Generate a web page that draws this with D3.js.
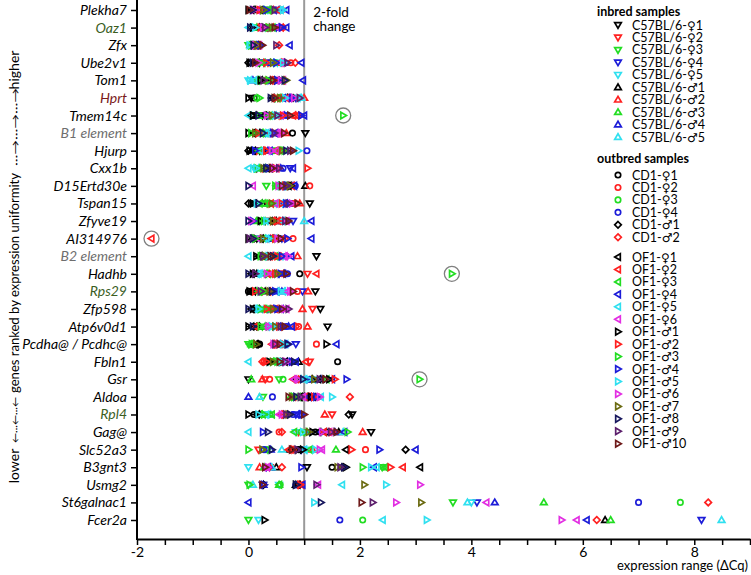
<!DOCTYPE html>
<html>
<head>
<meta charset="utf-8">
<script src="https://cdn.jsdelivr.net/npm/d3@7"></script>
<style>
  body { margin: 0; background: #fff; }
  svg { display: block; font-family: Lato, "Open Sans", sans-serif; }
</style>
</head>
<body>
<svg width="751" height="575"></svg>
<script>
// genes, top (most uniform) to bottom
const genes = ["Plekha7", "Oaz1", "Zfx", "Ube2v1", "Tom1", "Hprt", "Tmem14c", "B1 element", "Hjurp", "Cxx1b",
  "D15Ertd30e", "Tspan15", "Zfyve19", "AI314976", "B2 element", "Hadhb", "Rps29", "Zfp598", "Atp6v0d1",
  "Pcdha@ / Pcdhc@", "Fbln1", "Gsr", "Aldoa", "Rpl4", "Gag@", "Slc52a3", "B3gnt3", "Usmg2", "St6galnac1", "Fcer2a"];

// samples (same order as values in every gene array below)
const inbredSamples = ["C57BL/6-♀1", "C57BL/6-♀2", "C57BL/6-♀3", "C57BL/6-♀4", "C57BL/6-♀5",
  "C57BL/6-♂1", "C57BL/6-♂2", "C57BL/6-♂3", "C57BL/6-♂4", "C57BL/6-♂5"];
const cd1Samples = ["CD1-♀1", "CD1-♀2", "CD1-♀3", "CD1-♀4", "CD1-♂1", "CD1-♂2"];
const of1Samples = ["OF1-♀1", "OF1-♀2", "OF1-♀3", "OF1-♀4", "OF1-♀5", "OF1-♀6",
  "OF1-♂1", "OF1-♂2", "OF1-♂3", "OF1-♂4", "OF1-♂5", "OF1-♂6", "OF1-♂7", "OF1-♂8", "OF1-♂9", "OF1-♂10"];
const samples = inbredSamples.concat(cd1Samples, of1Samples);

// expression range (dCq) per gene, 32 samples each
const plekha7 = [0.30,0.42,0.22,0.50,0.35, 0.12,0.45,0.28,0.55,0.38, 0.18,0.60,0.33,0.48, 0.25,0.40, 0.05,0.52,0.36,0.68,0.58,0.15, 0.00,0.20,0.44,0.32,0.62,0.10,0.27,0.08,0.47,0.02];
const oaz1 = [0.35,0.25,0.40,0.50,0.30, 0.20,0.45,0.15,0.55,0.38, 0.28,0.62,0.10,0.48, 0.05,0.33, 0.18,0.58,0.43,0.68,0.00,0.52, 0.08,0.22,0.36,0.60,0.12,0.26,0.42,0.03,0.30,0.47];
const zfx = [0.10,0.15,0.00,0.12,0.05, 0.08,0.18,0.03,0.14,0.06, 0.20,0.11,0.16,0.09, 0.22,0.55, 0.13,0.17,0.07,0.74,0.04,0.19, 0.10,0.14,0.06,0.21,0.02,0.12,0.16,0.09,0.50,0.25];
const ube2v1 = [0.20,0.35,0.45,0.28,0.52, 0.10,0.60,0.40,0.65,0.30, 0.05,0.76,0.48,0.38, 0.00,0.84, 0.15,0.55,0.25,0.95,0.42,0.58, 0.02,0.32,0.22,0.50,0.62,0.18,0.44,0.08,0.70,0.12];
const tom1 = [0.12,0.30,0.20,0.35,0.00, 0.25,0.40,0.18,0.08,0.05, 0.45,0.50,0.28,0.38, 0.55,0.32, 0.42,0.60,0.15,0.98,0.10,0.62, 0.22,0.48,0.36,0.52,0.03,0.58,0.68,0.65,0.27,0.44];
const hprt = [0.05,0.55,0.48,0.85,0.90, 0.70,1.00,0.60,0.75,0.95, 0.10,0.65,0.15,0.45, 0.80,0.58, 0.42,0.68,0.52,0.62,0.88,0.72, 0.00,0.50,0.20,0.78,0.66,0.82,0.57,0.40,0.92,0.47];
const tmem14c = [0.25,0.55,0.40,0.35,0.60, 0.15,0.85,0.30,0.65,0.50, 0.10,0.45,0.20,0.70, 0.05,0.90, 0.28,0.80,0.38,1.00,0.00,0.58, 0.08,0.62,1.70,0.95,0.48,0.33,0.42,0.18,0.52,0.75];
const b1Element = [1.02,0.55,0.35,0.30,0.45, 0.20,0.68,0.25,0.40,0.15, 0.79,0.50,0.28,0.42, 0.10,0.60, 0.08,0.38,0.22,0.48,0.32,0.52, 0.00,0.18,0.05,0.44,0.36,0.58,0.12,0.26,0.47,0.64];
const hjurp = [0.20,0.15,0.55,0.10,0.40, 0.05,0.28,0.58,0.35,0.70, 0.25,0.62,0.45,1.05, 0.00,0.30, 0.08,0.48,0.18,0.38,0.22,0.50, 0.02,0.32,0.65,0.12,0.90,0.42,0.60,0.68,0.75,0.80];
const cxx1b = [0.15,0.25,0.12,0.75,0.10, 0.30,0.40,0.20,0.58,0.18, 0.35,0.28,0.22,0.62, 0.33,0.45, 0.38,0.50,0.25,0.80,0.00,0.48, 0.42,1.06,0.16,0.36,0.14,0.46,0.27,0.32,0.55,0.43];
const d15Ertd30e = [0.62,0.70,0.32,0.58,0.66, 1.02,0.74,0.55,0.80,0.60, 0.68,1.10,0.52,0.84, 0.64,0.56, 0.72,0.78,0.50,0.82,0.62,0.08, 0.76,0.66,0.48,0.70,0.58,0.54,0.74,0.00,0.68,0.60];
const tspan15 = [1.10,0.35,0.45,0.62,0.50, 0.25,0.92,0.30,0.70,0.55, 0.05,0.80,0.28,0.75, 0.00,0.85, 0.10,0.40,0.20,0.65,0.58,0.48, 0.08,0.60,0.38,0.68,0.15,0.78,0.42,0.18,0.72,0.88];
const zfyve19 = [0.30,0.40,0.20,0.80,0.35, 0.50,0.55,0.15,0.62,1.00, 0.45,0.65,0.18,0.70, 0.48,0.58, 0.38,0.42,0.25,1.13,0.60,0.68, 0.22,0.52,0.28,0.08,0.32,0.05,0.44,0.00,0.66,0.72];
const ai314976 = [0.15,0.35,0.25,0.60,0.20, 0.05,0.40,0.30,0.45,0.50, 0.55,0.80,0.28,0.38, 0.10,0.65, 0.22,-1.74,0.42,1.13,0.32,0.18, 0.00,0.48,0.12,0.70,0.36,0.52,0.26,0.08,0.02,0.58];
const b2Element = [1.22,0.40,0.30,0.55,0.62, 0.25,0.88,0.20,0.45,0.35, 0.28,0.50,0.42,0.68, 0.33,0.58, 0.18,0.38,0.48,0.77,0.00,0.65, 0.14,0.52,0.22,0.60,0.36,0.72,0.30,0.44,0.26,0.40];
const hadhb = [0.30,1.06,0.40,0.55,0.20, 0.15,0.50,0.35,0.65,0.25, 0.92,0.60,0.45,0.70, 0.10,0.38, 0.05,1.22,0.28,0.62,0.18,0.42, 0.08,0.48,3.65,0.58,0.22,0.33,0.52,0.00,0.12,0.68];
const rps29 = [1.20,0.40,0.20,0.97,0.55, 0.30,1.07,0.15,0.60,0.65, 0.00,0.88,0.10,0.45, 0.05,0.25, 0.08,0.35,0.18,0.50,0.62,0.70, 0.02,0.12,0.28,0.48,0.58,0.75,0.38,0.42,0.22,0.80];
const zfp598 = [1.29,1.15,0.40,0.35,0.25, 0.20,0.97,0.30,0.45,0.15, 0.50,0.62,0.38,0.55, 0.10,0.42, 0.05,0.48,0.28,0.58,0.12,0.68, 0.08,0.33,0.22,0.52,0.18,0.65,0.44,0.00,0.72,0.60];
const atp6v0d1 = [1.42,0.60,0.25,0.45,0.38, 0.20,1.06,0.30,0.72,0.50, 0.10,0.90,0.35,0.68, 0.15,0.85, 0.05,0.12,0.28,0.78,0.40,0.32, 0.00,0.55,0.22,0.62,0.42,0.36,0.48,0.08,0.58,0.65];
const pcdha = [0.15,0.48,0.00,0.85,0.62, 0.10,0.52,0.05,0.58,0.65, 0.20,1.22,0.08,0.55, 0.18,0.60, 0.12,0.42,0.03,1.58,0.66,0.45, 1.40,0.50,0.06,0.72,0.62,0.45,0.14,0.70,0.48,0.56];
const fbln1 = [0.55,1.10,0.40,0.62,0.35, 0.90,0.30,0.45,0.70,0.50, 1.60,0.28,0.42,0.75, 0.58,0.25, 0.65,1.03,0.48,0.85,0.00,0.72, 0.38,0.32,0.52,0.78,0.60,0.68,0.44,0.82,0.66,0.56];
const gsr = [0.00,0.30,0.55,1.05,1.20, 1.15,0.25,0.05,1.30,0.95, 0.85,0.38,0.62,1.10, 1.35,0.90, 1.25,0.80,1.40,1.50,1.00,0.82, 1.45,1.55,3.07,1.76,1.08,0.88,1.18,0.98,1.28,1.38];
const aldoa = [0.95,0.85,0.26,1.05,0.80, 1.00,1.10,0.75,0.00,0.20, 1.15,1.25,0.90,0.43, 1.20,1.82, 0.92,1.02,0.88,1.08,1.30,0.98, 1.12,1.18,0.82,1.22,1.50,1.28,0.78,0.86,0.94,0.72];
const rpl4 = [1.86,1.50,0.30,0.85,0.35, 0.20,1.37,0.25,0.92,0.40, 0.10,0.62,0.38,0.80, 1.80,0.70, 0.15,0.58,0.42,0.88,0.32,0.55, 0.00,0.65,0.28,0.95,0.18,0.60,0.72,0.75,0.68,1.00];
const gag = [2.20,0.90,1.00,1.10,0.85, 1.62,2.05,1.05,1.55,1.70, 1.20,0.55,0.95,1.30, 1.40,0.60, 1.25,1.35,0.82,1.72,0.00,1.45, 1.15,1.50,1.78,0.26,0.98,1.32,1.08,0.35,1.48,1.58];
const slc52a3 = [0.85,0.18,0.35,0.95,1.05, 0.75,1.15,1.57,0.40,0.60, 0.90,2.10,0.32,0.28, 2.82,0.80, 1.75,0.72,1.10,3.00,1.00,1.32, 0.98,1.85,0.00,2.35,1.20,1.28,0.25,0.42,0.88,0.78];
const b3gnt3 = [1.05,0.38,2.40,0.32,0.00, 0.50,0.20,0.28,0.40,0.42, 1.50,0.36,2.42,0.30, 1.68,0.60, 3.08,2.77,2.45,2.25,2.30,0.33, 1.75,2.55,2.05,0.95,2.20,0.35,1.60,1.72,1.65,0.30];
const usmg2 = [0.26,0.90,0.00,0.26,0.55, 0.85,0.92,0.55,0.27,0.08, 0.88,0.92,0.57,0.85, 0.27,0.90, 0.88,0.95,0.55,0.97,1.68,1.25, 0.85,0.93,0.02,0.28,2.47,3.08,2.08,0.86,1.22,0.25];
const st6galnac1 = [null,null,3.67,4.10,4.00, null,null,5.30,4.42,3.93, null,null,7.75,7.00, null,8.25, null,null,null,0.00,null,4.27, null,null,null,null,1.18,2.65,3.10,1.30,2.23,2.03];
const fcer2a = [null,null,0.00,8.13,0.18, 6.40,null,6.50,null,8.49, null,null,2.05,1.64, null,6.25, null,null,null,6.07,2.41,5.89, 0.29,null,null,null,3.20,5.62,null,null,null,null];

const values = [plekha7, oaz1, zfx, ube2v1, tom1, hprt, tmem14c, b1Element, hjurp, cxx1b,
  d15Ertd30e, tspan15, zfyve19, ai314976, b2Element, hadhb, rps29, zfp598, atp6v0d1,
  pcdha, fbln1, gsr, aldoa, rpl4, gag, slc52a3, b3gnt3, usmg2, st6galnac1, fcer2a];

// outliers marked with a ring
const circledGenes = ["AI314976", "Tmem14c", "Hadhb", "Gsr"];
const circledSamples = ["OF1-♀2", "OF1-♂3", "OF1-♂3", "OF1-♂3"];

const xTickLabels = [-2, 0, 2, 4, 6, 8];

// styles
const palette = ["#000000", "#ff2020", "#22dd22", "#1c1cd8", "#30e0f0", "#e22ee2", "#6b6b12", "#18185e", "#5c1f6c", "#6e1a1a"];
const labelColor = { "Oaz1": "#3b5e1f", "Rps29": "#3b5e1f", "Rpl4": "#3b5e1f", "Hprt": "#7a1a1a",
  "B1 element": "#6e6e6e", "B2 element": "#6e6e6e" };

function sampleShape(name) {
  let female = name.indexOf("♀") >= 0;
  if (name.startsWith("C57")) return female ? "down" : "up";
  if (name.startsWith("CD1")) return female ? "circle" : "diamond";
  return female ? "left" : "right";
}
function sampleColor(name) {
  let n = +name.replace(/.*[♀♂]/, "");
  return palette[n - 1];
}

function markerPath(shape) {
  let s = 3.3;
  switch (shape) {
    case "down": return `M${-s},${-s * 0.7}L${s},${-s * 0.7}L0,${s}Z`;
    case "up": return `M${-s},${s * 0.7}L${s},${s * 0.7}L0,${-s}Z`;
    case "left": return `M${s * 0.7},${-s}L${s * 0.7},${s}L${-s},0Z`;
    case "right": return `M${-s * 0.7},${-s}L${-s * 0.7},${s}L${s},0Z`;
    case "diamond": return `M0,${-s}L${s},0L0,${s}L${-s},0Z`;
    default: { let r = 2.7; return `M${r},0A${r},${r} 0 1,1 ${-r},0A${r},${r} 0 1,1 ${r},0Z`; }
  }
}

let svg = d3.select("svg");
let x = d3.scaleLinear().domain([-2, 9]).range([137, 750]);
let y = d3.scalePoint().domain(genes).range([10, 520]);
let axisY = 539;

// 2-fold change line
svg.append("line")
  .attr("x1", x(1)).attr("x2", x(1))
  .attr("y1", 0).attr("y2", axisY)
  .attr("stroke", "#9a9a9a").attr("stroke-width", 2);

svg.append("text")
  .attr("x", x(1) + 9).attr("y", 17)
  .attr("font-size", 13.5)
  .selectAll("tspan")
  .data(["2-fold", "change"])
  .enter().append("tspan")
  .attr("x", x(1) + 9)
  .attr("dy", (d, i) => i ? 14 : 0)
  .text(d => d);

// x axis
let xAxis = d3.axisBottom(x)
  .tickValues(d3.range(-2, 9.01, 0.5))
  .tickFormat(d => xTickLabels.includes(d) ? String(d) : "")
  .tickSize(6)
  .tickSizeOuter(0)
  .tickPadding(2);

svg.append("g")
  .attr("transform", `translate(0,${axisY})`)
  .call(xAxis)
  .call(g => g.select(".domain").attr("stroke-width", 2))
  .call(g => g.selectAll(".tick line").attr("stroke-width", 1.5))
  .call(g => g.selectAll("text").attr("font-size", 14).attr("font-family", "Lato, sans-serif").attr("fill", "#000"));

svg.append("text")
  .attr("x", 748).attr("y", 570)
  .attr("text-anchor", "end")
  .attr("font-size", 13)
  .text("expression range (ΔCq)");

// y axis
let yAxis = d3.axisLeft(y).tickSize(6).tickPadding(4);
svg.append("g")
  .attr("transform", `translate(${x(-2)},0)`)
  .call(yAxis)
  .call(g => g.select(".domain").remove())
  .call(g => g.selectAll(".tick line").attr("stroke-width", 1.5))
  .call(g => g.selectAll("text")
    .attr("font-size", 14)
    .attr("font-family", "Lato, sans-serif")
    .attr("font-style", "italic")
    .attr("fill", d => labelColor[d] || "#000"));

svg.append("line")
  .attr("x1", x(-2)).attr("x2", x(-2))
  .attr("y1", 0).attr("y2", axisY + 1)
  .attr("stroke", "#000").attr("stroke-width", 2);

// y axis title
let yTitle = svg.append("g")
  .attr("transform", "translate(19,0) rotate(-90)")
  .attr("font-size", 14)
  .attr("text-anchor", "middle");
yTitle.append("text").attr("x", -466).text("lower");
yTitle.append("text").attr("x", -420).attr("font-size", 10)
  .attr("textLength", 46).attr("lengthAdjust", "spacingAndGlyphs").text("←···←···←");
yTitle.append("text").attr("x", -283)
  .attr("textLength", 220).attr("lengthAdjust", "spacingAndGlyphs")
  .text("genes ranked by expression uniformity");
yTitle.append("text").attr("x", -127).attr("font-size", 10)
  .attr("textLength", 78).attr("lengthAdjust", "spacingAndGlyphs").text("···→···→···→");
yTitle.append("text").attr("x", -70).text("higher");

// rings round the outliers
svg.append("g").selectAll("circle")
  .data(circledGenes)
  .enter().append("circle")
  .attr("cx", (g, i) => x(values[genes.indexOf(g)][samples.indexOf(circledSamples[i])]))
  .attr("cy", g => y(g))
  .attr("r", 7.5)
  .attr("fill", "#fff")
  .attr("stroke", "#808080")
  .attr("stroke-width", 1.3);

// points, one group per sample
let pts = svg.append("g");
samples.forEach((s, j) => {
  let data = genes.map((g, i) => ({ gene: g, v: values[i][j] })).filter(d => d.v !== null);
  pts.append("g")
    .selectAll("path")
    .data(data)
    .enter().append("path")
    .attr("transform", d => `translate(${x(d.v)},${y(d.gene)})`)
    .attr("d", markerPath(sampleShape(s)))
    .attr("fill", "none")
    .attr("stroke", sampleColor(s))
    .attr("stroke-width", 1.7);
});

// legend
let legend = svg.append("g").attr("font-size", 12.5);
legend.append("text").attr("x", 597).attr("y", 16).attr("font-weight", "bold").text("inbred samples");
legend.append("text").attr("x", 597).attr("y", 163).attr("font-weight", "bold").text("outbred samples");

let legendRows = [];
inbredSamples.forEach((s, k) => legendRows.push({ s: s, y: 25 + 12.45 * k }));
cd1Samples.forEach((s, k) => legendRows.push({ s: s, y: 175 + 12.45 * k }));
of1Samples.forEach((s, k) => legendRows.push({ s: s, y: 257 + 12.45 * k }));

let item = legend.selectAll(".item")
  .data(legendRows)
  .enter().append("g")
  .attr("class", "item")
  .attr("transform", d => `translate(618,${d.y})`);
item.append("path")
  .attr("d", d => markerPath(sampleShape(d.s)))
  .attr("fill", "none")
  .attr("stroke", d => sampleColor(d.s))
  .attr("stroke-width", 1.7);
let label = item.append("text")
  .attr("x", 14).attr("dy", "0.36em");
label.append("tspan").text(d => d.s.split(/[♀♂]/)[0]);
label.append("tspan")
  .attr("font-family", "DejaVu Sans")
  .attr("font-size", 12)
  .text(d => d.s.match(/[♀♂]/)[0]);
label.append("tspan").text(d => d.s.split(/[♀♂]/)[1]);
</script>
</body>
</html>
